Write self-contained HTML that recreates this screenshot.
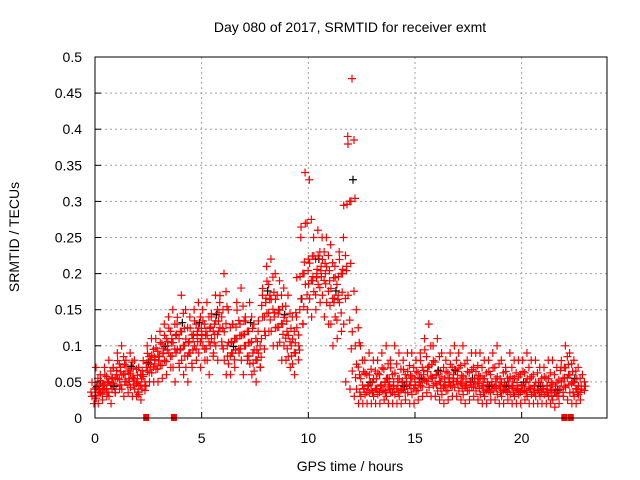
<!DOCTYPE html>
<html><head><meta charset="utf-8"><style>
body{margin:0;background:#fff;}
svg{display:block;font-family:"Liberation Sans",sans-serif;}
</style></head><body>
<svg id="chart" width="640" height="480">
<rect x="0" y="0" width="640" height="480" fill="#fff"/>
<g id="grid"></g>
<g id="marks"></g>
<rect x="95" y="57" width="512" height="361" fill="none" stroke="#000" stroke-width="1"/>
<g id="ticks"></g>
<text x="350" y="32" text-anchor="middle" font-size="14">Day 080 of 2017, SRMTID for receiver exmt</text>
<text x="350" y="471" text-anchor="middle" font-size="14">GPS time / hours</text>
<text transform="translate(19,237) rotate(-90)" text-anchor="middle" font-size="14">SRMTID / TECUs</text>
</svg>
<script>
const xTicks=[0,5,10,15,20];
const yTicks=[0,0.05,0.1,0.15,0.2,0.25,0.3,0.35,0.4,0.45,0.5];
const yTickLabels=["0","0.05","0.1","0.15","0.2","0.25","0.3","0.35","0.4","0.45","0.5"];
const startHour=0, stepHour=0.2;
const midVals=[.04,.035,.045,.05,.04,.06,.07,.05,.065,.055,.05,.04,.07,.08,.075,.085,.09,.1,.11,.09,.12,.1,.09,.11,.12,.11,.12,.1,.13,.12,.15,.1,.09,.11,.13,.1,.12,.09,.08,.11,.16,.17,.14,.15,.13,.12,.1,.09,.15,.2,.22,.19,.2,.21,.2,.19,.16,.17,.2,.21,.3,.1,.06,.04,.045,.05,.04,.045,.05,.04,.05,.045,.04,.055,.05,.045,.05,.06,.07,.055,.06,.05,.045,.05,.06,.055,.05,.045,.05,.055,.05,.045,.04,.05,.05,.045,.04,.05,.045,.04,.045,.05,.04,.045,.04,.04,.045,.04,.035,.04,.07,.06,.05,.04,.04];
const hiVals=[.07,.06,.07,.08,.07,.09,.1,.08,.09,.08,.07,.06,.1,.11,.11,.12,.13,.14,.15,.13,.17,.15,.14,.15,.16,.15,.16,.14,.17,.16,.2,.15,.13,.16,.18,.14,.16,.13,.12,.17,.21,.22,.2,.19,.18,.17,.14,.14,.25,.34,.33,.25,.26,.25,.25,.24,.21,.23,.25,.39,.47,.15,.1,.08,.09,.08,.08,.09,.1,.08,.1,.09,.08,.09,.09,.08,.09,.11,.13,.1,.11,.09,.08,.09,.1,.09,.1,.08,.09,.09,.09,.08,.08,.09,.1,.08,.07,.09,.08,.08,.08,.09,.08,.08,.07,.07,.08,.08,.07,.07,.1,.09,.08,.07,.06];
const loVals=[.02,.02,.025,.03,.02,.035,.04,.03,.035,.03,.03,.025,.045,.05,.05,.05,.055,.06,.07,.05,.07,.06,.05,.07,.08,.07,.08,.06,.09,.08,.1,.06,.06,.07,.09,.06,.08,.06,.05,.07,.12,.12,.1,.1,.08,.08,.07,.06,.1,.13,.15,.14,.15,.16,.14,.13,.1,.11,.12,.05,.04,.03,.02,.02,.02,.02,.02,.02,.025,.02,.02,.02,.02,.025,.02,.02,.025,.03,.035,.03,.03,.025,.02,.025,.03,.03,.025,.02,.025,.03,.025,.02,.02,.025,.025,.02,.02,.025,.02,.02,.02,.025,.02,.02,.02,.02,.02,.02,.015,.02,.03,.025,.02,.02,.025];
const zeroHours=[2.4,3.7,22.0,22.3];
const NS="http://www.w3.org/2000/svg";
const X=h=>95+h*(512/24), Y=v=>418-v*(361/0.5);
function mk(t,a,p){const e=document.createElementNS(NS,t);for(const k in a)e.setAttribute(k,a[k]);p.appendChild(e);return e;}
const grid=document.getElementById('grid'),ticks=document.getElementById('ticks'),marks=document.getElementById('marks');
xTicks.forEach(t=>{
 if(t>0){const g=mk('line',{x1:X(t),x2:X(t),y1:57,y2:418,stroke:'#a0a0a0','stroke-dasharray':'2,3'},grid);
 
 }
 mk('line',{x1:X(t),x2:X(t),y1:418,y2:412,stroke:'#000'},ticks);
 const l=mk('text',{x:X(t),y:443,'text-anchor':'middle','font-size':14},ticks);l.textContent=t;
 
 
});
yTicks.forEach((t,i)=>{
 if(t>0&&t<0.5){const g=mk('line',{x1:95,x2:607,y1:Y(t),y2:Y(t),stroke:'#a0a0a0','stroke-dasharray':'2,3'},grid);
 
 }
 mk('line',{x1:95,x2:101,y1:Y(t),y2:Y(t),stroke:'#000'},ticks);
 const l=mk('text',{x:82,y:Y(t)+5,'text-anchor':'end','font-size':14},ticks);l.textContent=yTickLabels[i];
 
 
});
function cross(h,v,c,dx,dy){
 const x=X(h)+dx,y=Y(v)+(dy||0);
 const p=mk('path',{d:`M${x-4} ${y}h8M${x} ${y-4}v8`,stroke:c,'stroke-width':1.2},marks);
 
 
}
midVals.forEach((m,i)=>{
 const h=startHour+i*stepHour;
 const hi=hiVals[i],lo=loVals[i];
 cross(h,hi,'#f00',1);
 cross(h,lo,'#f00',-1);
 cross(h,m,'#f00',0);
 cross(h,(m+hi)/2,'#f00',3);
 cross(h,(m+lo)/2,'#f00',-3);
 cross(h,(m+hi)/2,'#f00',-3,4);
 cross(h,(m+lo)/2,'#f00',3,-4);
 cross(h,m,'#f00',-4,3);
 cross(h,m,'#f00',4,-3);
 if(i%4===0)cross(h,m*1.1,'#000',2);
});
zeroHours.forEach(h=>{
 const r=mk('rect',{x:X(h)-3,y:414,width:6,height:7,fill:'#f00'},marks);
 
 
});
</script>
</body></html>
